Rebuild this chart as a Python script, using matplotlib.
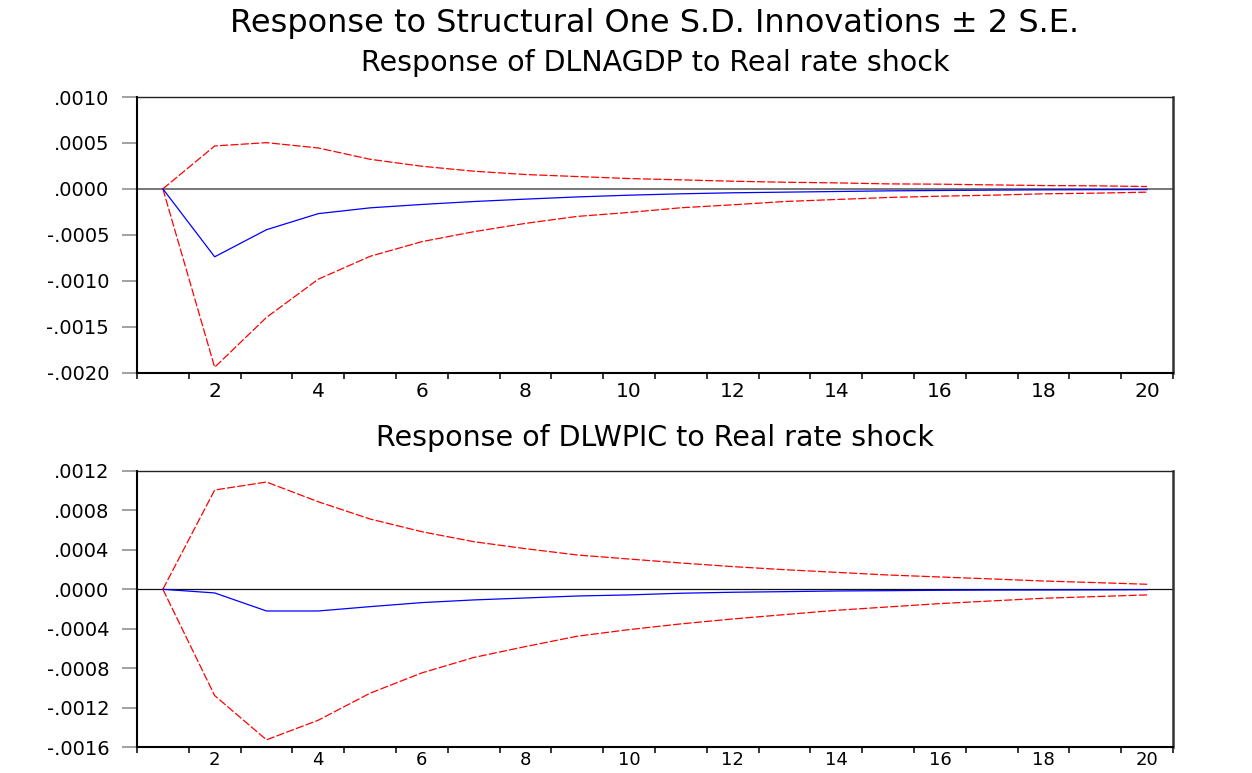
import matplotlib
matplotlib.use("Agg")
import matplotlib.pyplot as plt
from matplotlib.ticker import FixedLocator, FuncFormatter
import numpy as np

plt.rcParams['font.family'] = ['DejaVu Sans']

periods = list(range(1, 21))

gdp_resp = [0, -0.000740, -0.000445, -0.000270, -0.000207, -0.000170, -0.000138, -0.000112,
            -0.000088, -0.000069, -0.000054, -0.000043, -0.000036, -0.000029, -0.000022,
            -0.000018, -0.000014, -0.000011, -0.000009, -0.000008]
gdp_upper = [0, 0.000467, 0.000503, 0.000445, 0.000322, 0.000246, 0.000192, 0.000156,
             0.000134, 0.000112, 0.000098, 0.000083, 0.000072, 0.000065, 0.000054,
             0.000051, 0.000043, 0.000036, 0.000033, 0.000025]
gdp_lower = [0, -0.001943, -0.001400, -0.000984, -0.000735, -0.000575, -0.000467, -0.000376,
             -0.000300, -0.000257, -0.000206, -0.000174, -0.000138, -0.000116, -0.000094,
             -0.000080, -0.000069, -0.000054, -0.000047, -0.000036]

wpi_resp = [0, -0.000037, -0.000220, -0.000220, -0.000176, -0.000135, -0.000108, -0.000088,
            -0.000068, -0.000057, -0.000040, -0.000030, -0.000024, -0.000017, -0.000014,
            -0.000010, -0.000008, -0.000007, -0.000006, -0.000004]
wpi_upper = [0, 0.001007, 0.001088, 0.000888, 0.000713, 0.000584, 0.000483, 0.000412,
             0.000348, 0.000307, 0.000267, 0.000230, 0.000199, 0.000172, 0.000145,
             0.000125, 0.000105, 0.000084, 0.000068, 0.000051]
wpi_lower = [0, -0.001078, -0.001527, -0.001328, -0.001054, -0.000848, -0.000692, -0.000581,
             -0.000476, -0.000409, -0.000351, -0.000301, -0.000257, -0.000213, -0.000179,
             -0.000145, -0.000118, -0.000091, -0.000074, -0.000057]

main_title = "Response to Structural One S.D. Innovations \u00b1 2 S.E."
panel_titles = ["Response of DLNAGDP to Real rate shock",
                "Response of DLWPIC to Real rate shock"]
x_tick_labels = [2, 4, 6, 8, 10, 12, 14, 16, 18, 20]
gdp_yticks = [0.0010, 0.0005, 0.0000, -0.0005, -0.0010, -0.0015, -0.0020]
wpi_yticks = [0.0012, 0.0008, 0.0004, 0.0000, -0.0004, -0.0008, -0.0012, -0.0016]

fig = plt.figure(figsize=(12.52, 7.73), dpi=100)

ax1 = fig.add_axes([0.1094, 0.5181, 0.8275, 0.3564])
ax2 = fig.add_axes([0.1094, 0.0336, 0.8275, 0.3571])


def fmt(v, pos=None):
    s = f"{v:.4f}"
    s = s.replace("0.", ".", 1) if s.startswith("0.") else s.replace("-0.", "-.", 1)
    return s


def style(ax, resp, up, lo, yticks, zcolor, zlw, xpad, xsize):
    ax.axhline(0, color=zcolor, lw=zlw, zorder=1)
    ax.plot(periods, up, color='#ff0000', lw=0.9, dashes=(6.5, 1.8), zorder=2)
    ax.plot(periods, lo, color='#ff0000', lw=0.9, dashes=(6.5, 1.8), zorder=2)
    ax.plot(periods, resp, color='#0000ff', lw=0.9, zorder=3)
    ax.set_xlim(0.5, 20.5)
    ax.set_ylim(min(yticks), max(yticks))
    ax.yaxis.set_major_locator(FixedLocator(yticks))
    ax.yaxis.set_major_formatter(FuncFormatter(fmt))
    ax.xaxis.set_major_locator(FixedLocator(x_tick_labels))
    ax.xaxis.set_major_formatter(FuncFormatter(lambda v, p: f"{int(v)}"))
    ax.xaxis.set_minor_locator(FixedLocator(np.arange(0.5, 21, 1.0)))
    ax.tick_params(axis='y', which='major', direction='out', length=11, width=1.3,
                   color='#999999', pad=9, labelsize=14)
    ax.tick_params(axis='x', which='major', length=0, pad=xpad, labelsize=xsize)
    ax.tick_params(axis='x', which='minor', direction='out', length=4.5, width=1.1,
                   color='black')
    for side in ['left', 'bottom']:
        ax.spines[side].set_linewidth(1.5)
        ax.spines[side].set_color('black')
    ax.spines['top'].set_linewidth(1.0)
    ax.spines['top'].set_color('#222222')
    ax.spines['right'].set_linewidth(1.8)
    ax.spines['right'].set_color('#333333')


style(ax1, gdp_resp, gdp_upper, gdp_lower, gdp_yticks, '#777777', 1.4, 7, 14.5)
style(ax2, wpi_resp, wpi_upper, wpi_lower, wpi_yticks, '#111111', 0.9, 3, 13)

cx = 0.1094 + 0.8275 / 2
fig.text(cx, 0.9586, main_title, ha='center', va='baseline', fontsize=23)
fig.text(cx, 0.9082, panel_titles[0], ha='center', va='baseline', fontsize=20.5)
fig.text(cx, 0.4234, panel_titles[1], ha='center', va='baseline', fontsize=20.5)

fig.savefig("out.png", dpi=100)
